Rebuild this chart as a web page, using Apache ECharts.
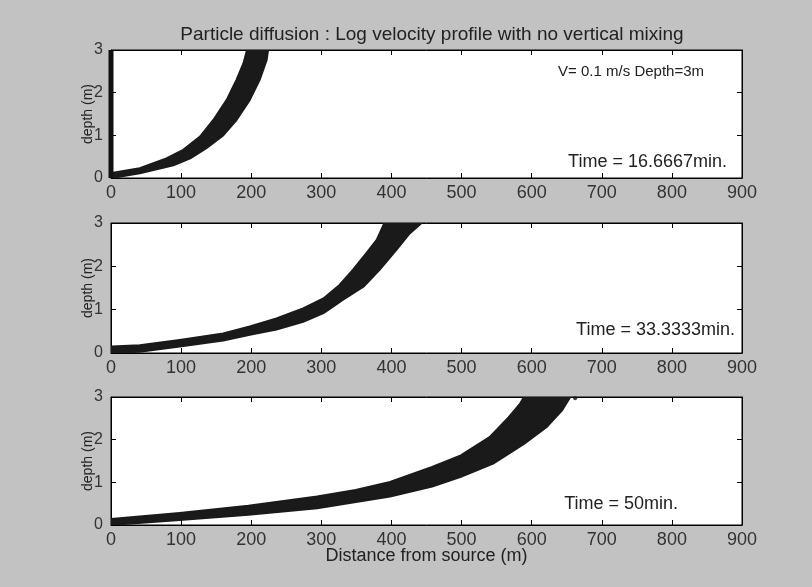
<!DOCTYPE html>
<html><head><meta charset="utf-8">
<script src="https://cdn.jsdelivr.net/npm/echarts@6/dist/echarts.min.js"></script>
<style>html,body{margin:0;padding:0;background:#c2c2c2}#c{width:812px;height:587px}</style>
</head><body><div id="c"></div>
<script>
// ---- data ----
const xTicks = [0, 100, 200, 300, 400, 500, 600, 700, 800, 900];
const yTicks = [0, 1, 2, 3];
const panelTimes = ['Time = 16.6667min.', 'Time = 33.3333min.', 'Time = 50min.'];
const titleText = 'Particle diffusion : Log velocity profile with no vertical mixing';
const infoText = 'V= 0.1 m/s Depth=3m';

// particle cloud edges, t = 16.6667 min (upper-left edge and lower-right edge)
const t1UpperX = [1, 41, 79, 103, 127, 146, 165, 179, 189, 194];
const t1UpperD = [0.12, 0.23, 0.46, 0.66, 0.97, 1.36, 1.83, 2.30, 2.69, 3.00];
const t1LowerX = [1, 41, 89, 113, 136, 160, 179, 198, 212, 222, 224];
const t1LowerD = [0.00, 0.11, 0.30, 0.46, 0.70, 1.00, 1.36, 1.83, 2.30, 2.77, 3.00];
// particles near the source, t = 16.6667 min
const t1SourceX = [0, 0];
const t1SourceD = [0, 3];

// t = 33.3333 min
const t2UpperX = [1, 41, 98, 160, 198, 236, 274, 303, 326, 345, 364, 379, 390];
const t2UpperD = [0.15, 0.18, 0.30, 0.45, 0.61, 0.80, 1.03, 1.26, 1.57, 1.92, 2.30, 2.61, 3.00];
const t2LowerX = [1, 41, 98, 160, 198, 236, 274, 303, 331, 360, 383, 407, 426, 443];
const t2LowerD = [0.00, 0.03, 0.15, 0.29, 0.42, 0.54, 0.72, 0.92, 1.23, 1.53, 1.92, 2.38, 2.76, 3.00];

// t = 50 min
const t3UpperX = [0, 98, 196, 294, 349, 398, 458, 499, 540, 567, 583, 589];
const t3UpperD = [0.14, 0.28, 0.45, 0.67, 0.82, 1.01, 1.36, 1.63, 2.06, 2.52, 2.83, 3.00];
const t3LowerX = [0, 98, 196, 294, 398, 458, 499, 545, 589, 621, 643, 655];
const t3LowerD = [0.00, 0.12, 0.24, 0.39, 0.67, 0.90, 1.13, 1.44, 1.90, 2.29, 2.68, 3.00];
const t3StrayX = [662];
const t3StrayD = [2.97];

// ---- build ----
function zip(xs, ds) { return xs.map((x, i) => [x, ds[i]]); }
function poly(ux, ud, lx, ld) { return zip(ux, ud).concat(zip(lx, ld).reverse()); }
const bands = [
  poly(t1UpperX, t1UpperD, t1LowerX, t1LowerD),
  poly(t2UpperX, t2UpperD, t2LowerX, t2LowerD),
  poly(t3UpperX, t3UpperD, t3LowerX, t3LowerD)
];

const FONT = 'Liberation Sans, Arial, Helvetica, sans-serif';
const grids = [
  { left: 111, top: 50, width: 631, height: 128 },
  { left: 111, top: 223, width: 631, height: 130 },
  { left: 111, top: 397, width: 631, height: 128 }
];
const xAxes = [], yAxes = [], series = [];
grids.forEach((g, i) => {
  g.show = true; g.backgroundColor = '#ffffff'; g.borderColor = '#000'; g.borderWidth = 1;
  const common = {
    type: 'value', gridIndex: i, min: 0, max: 900, interval: 100,
    axisLine: { show: true, onZero: false, lineStyle: { color: '#000', width: 1 } },
    axisTick: { show: true, inside: true, length: 5, lineStyle: { color: '#000' } },
    splitLine: { show: false }
  };
  xAxes.push(Object.assign({}, common, {
    position: 'bottom',
    axisLabel: { show: true, color: '#333', fontSize: 18, fontFamily: FONT, margin: 6,
      formatter: v => xTicks.includes(v) ? String(v) : '' },
    name: i === 2 ? 'Distance from source (m)' : '',
    nameLocation: 'middle', nameGap: 22, nameMoveOverlap: false,
    nameTextStyle: { color: '#222', fontSize: 18, fontFamily: FONT }
  }));
  xAxes.push(Object.assign({}, common, { position: 'top', axisLabel: { show: false } }));
  const ycommon = {
    type: 'value', gridIndex: i, min: 0, max: 3, interval: 1,
    axisLine: { show: true, onZero: false, lineStyle: { color: '#000', width: 1 } },
    axisTick: { show: true, inside: true, length: 5, lineStyle: { color: '#000' } },
    splitLine: { show: false }
  };
  yAxes.push(Object.assign({}, ycommon, {
    position: 'left',
    axisLabel: { show: true, color: '#333', fontSize: 16, fontFamily: FONT, margin: 8,
      formatter: v => yTicks.includes(v) ? String(v) : '' },
    name: 'depth (m)', nameLocation: 'middle', nameGap: 16, nameRotate: 90, nameMoveOverlap: false,
    nameTextStyle: { color: '#222', fontSize: 14, fontFamily: FONT }
  }));
  yAxes.push(Object.assign({}, ycommon, { position: 'right', axisLabel: { show: false } }));

  const band = bands[i];
  series.push({
    type: 'custom', xAxisIndex: 2 * i, yAxisIndex: 2 * i, data: band, clip: true, silent: true,
    renderItem: (params, api) => {
      if (params.dataIndex !== 0) return null;
      return {
        type: 'polygon',
        shape: { points: band.map(p => api.coord(p)) },
        style: { fill: '#1a1a1a', stroke: '#1a1a1a', lineWidth: 2, lineJoin: 'round' }
      };
    }
  });
});
series.push({
  type: 'line', xAxisIndex: 0, yAxisIndex: 0, data: zip(t1SourceX, t1SourceD),
  symbol: 'none', lineStyle: { color: '#111', width: 5 }, silent: true, clip: false
});
series.push({
  type: 'scatter', xAxisIndex: 4, yAxisIndex: 4, data: zip(t3StrayX, t3StrayD),
  symbol: 'circle', symbolSize: 4, itemStyle: { color: '#111' }, silent: true
});

const txt = (x, y, s, align, size) => ({
  type: 'text', x: x, y: y,
  style: { text: s, fill: '#222', font: (size || 18) + 'px ' + FONT, textAlign: align || 'left', textVerticalAlign: 'middle' }
});

const chart = echarts.init(document.getElementById('c'), null, { renderer: 'canvas' });
chart.setOption({
  backgroundColor: '#c2c2c2',
  animation: false,
  title: { text: titleText, left: 427, textAlign: 'center', top: 20,
    textStyle: { color: '#222', fontSize: 19, fontWeight: 'normal', fontFamily: FONT } },
  grid: grids, xAxis: xAxes, yAxis: yAxes, series: series,
  graphic: [
    txt(704, 72, infoText, 'right', 15),
    txt(727, 162, panelTimes[0], 'right'),
    txt(735, 330, panelTimes[1], 'right'),
    txt(678, 504, panelTimes[2], 'right')
  ]
});
</script></body></html>
